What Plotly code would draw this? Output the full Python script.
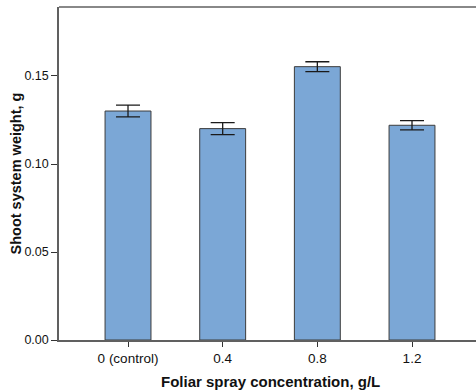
import plotly.graph_objects as go

categories = ["0 (control)", "0.4", "0.8", "1.2"]
means = [0.1301, 0.1201, 0.1553, 0.1220]
errors = [0.0033, 0.0034, 0.0028, 0.0026]
y_ticks = [0.0, 0.05, 0.10, 0.15]

x_idx = list(range(len(categories)))

W, H = 476, 390
ML, MR, MT, MB = 59, 0, 7, 50
plot_w = W - ML - MR
plot_h = H - MT - MB

fig = go.Figure()
fig.add_trace(go.Bar(
    x=x_idx, y=means, width=0.485,
    marker=dict(color="#7BA7D6", line=dict(color="#3c3c3c", width=1)),
    error_y=dict(type="data", array=errors, visible=True,
                 color="#1a1a1a", thickness=1.3, width=12),
))

fig.update_layout(
    width=W, height=H,
    margin=dict(l=ML, r=MR, t=MT, b=MB),
    plot_bgcolor="white", paper_bgcolor="white",
    showlegend=False,
    font=dict(family="Liberation Sans, Arial, sans-serif", color="#111111"),
    xaxis=dict(
        range=[-0.729, 3.676],
        tickmode="array", tickvals=x_idx, ticktext=categories,
        showline=True, linecolor="#606060", linewidth=1.5,
        ticks="outside", ticklen=5, tickcolor="#333333", tickwidth=1,
        tickfont=dict(size=13.5, color="#111111"),
        showgrid=False, zeroline=False,
    ),
    yaxis=dict(
        range=[0, 0.1892],
        tickmode="array", tickvals=y_ticks, ticktext=[f"{v:.2f}" for v in y_ticks],
        showline=True, linecolor="#606060", linewidth=1.5,
        ticks="outside", ticklen=6, tickcolor="#333333", tickwidth=1,
        tickfont=dict(size=12.5, color="#111111"),
        showgrid=False, zeroline=False,
    ),
    shapes=[dict(type="line", xref="paper", yref="paper", x0=0, x1=1, y0=1, y1=1,
                 line=dict(color="#606060", width=1.5))],
    annotations=[
        dict(text="<b>Foliar spray concentration, g/L</b>", x=1.5, xref="x",
             y=(340 - 381) / plot_h, yref="paper", yanchor="middle",
             showarrow=False, font=dict(size=15, color="#111111")),
        dict(text="<b>Shoot system weight, g</b>", x=(15 - ML) / plot_w, xref="paper",
             xanchor="center", y=0.5, yref="paper", yanchor="middle", textangle=-90,
             showarrow=False, font=dict(size=14.5, color="#111111")),
    ],
)

fig.write_html("out.html")
